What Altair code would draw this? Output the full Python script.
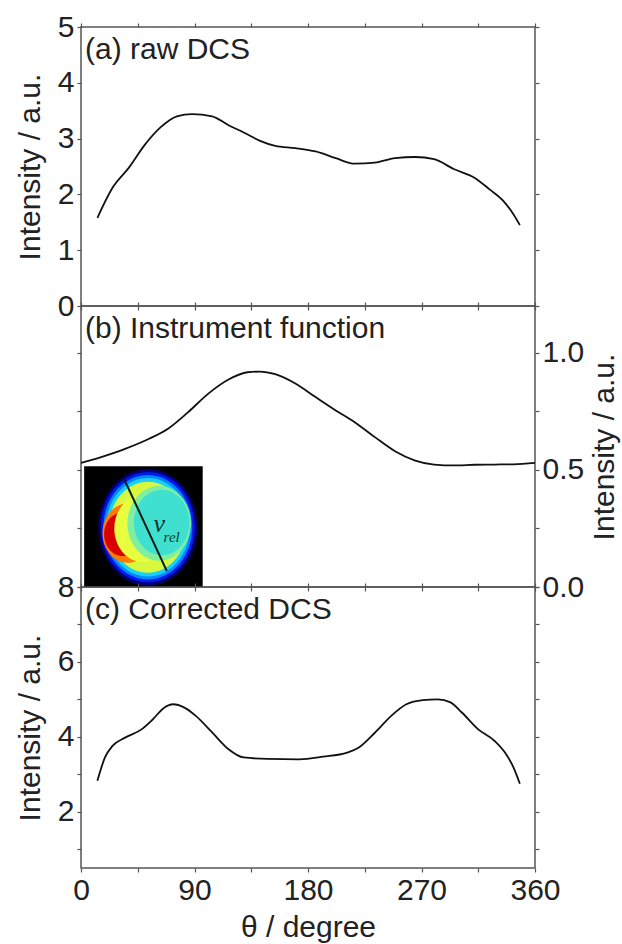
import altair as alt
import pandas as pd

# ---------------- data ----------------
theta_a = [13, 25, 38, 51, 63, 76, 88, 104, 117, 129, 142, 154, 170, 186, 202, 217, 233, 249, 265, 280, 296, 312, 324, 335, 343, 348]
int_a = [1.58, 2.12, 2.48, 2.90, 3.20, 3.40, 3.44, 3.40, 3.24, 3.11, 2.96, 2.87, 2.83, 2.77, 2.65, 2.55, 2.57, 2.65, 2.67, 2.63, 2.45, 2.30, 2.09, 1.88, 1.64, 1.45]

theta_b = [0, 16, 35, 54, 69, 85, 101, 117, 132, 142, 154, 170, 186, 202, 217, 233, 249, 265, 280, 296, 312, 328, 343, 360]
int_b = [0.53, 0.555, 0.59, 0.633, 0.676, 0.747, 0.826, 0.886, 0.917, 0.92, 0.909, 0.869, 0.811, 0.754, 0.704, 0.64, 0.58, 0.54, 0.523, 0.519, 0.522, 0.523, 0.524, 0.53]

theta_c = [13, 19, 25, 35, 48, 57, 66, 73, 82, 91, 104, 117, 129, 148, 173, 192, 211, 220, 233, 246, 258, 271, 283, 293, 302, 315, 328, 337, 343, 348]
int_c = [2.83, 3.45, 3.76, 3.98, 4.20, 4.47, 4.78, 4.87, 4.78, 4.56, 4.12, 3.67, 3.45, 3.41, 3.40, 3.47, 3.58, 3.71, 4.11, 4.56, 4.87, 4.98, 5.00, 4.92, 4.65, 4.20, 3.89, 3.54, 3.18, 2.75]

panel_labels = ["(a) raw DCS", "(b) Instrument function", "(c) Corrected DCS"]
x_title = "θ / degree"
y_title = "Intensity / a.u."

# inset (detector image sketch) in panel (b) data coordinates
inset_theta = [2.5, 96.5]
inset_int = [0.0, 0.516]
ring_theta = [53, 53, 53, 53, 53, 37, 33, 49, 62, 64]
ring_int = [0.255, 0.255, 0.255, 0.255, 0.255, 0.23, 0.225, 0.25, 0.272, 0.275]
ring_size = [13600, 12200, 10900, 9700, 8300, 3500, 1900, 4500, 5600, 4300]
ring_color = ["#00006e", "#0018f0", "#0088ff", "#18d0f8", "#d8f840", "#ff7a00", "#d80000", "#e8ff40", "#80f0a0", "#40e0d0"]
vrel_theta = [34, 68]
vrel_int = [0.463, 0.069]

FONT = "Liberation Sans"
W, FS = 454, 30
x_vals = [0, 45, 90, 135, 180, 225, 270, 315, 360]
xscale = alt.Scale(domain=[0, 360], nice=False, zero=False)
ELL = "M -0.85 0 A 0.85 1 0 1 1 0.85 0 A 0.85 1 0 1 1 -0.85 0 Z"


def xaxis(orient, labels=False, title=None):
    kw = dict(orient=orient, values=x_vals, labels=labels, domain=False,
              tickSize=4, grid=False, labelFlush=False)
    if labels:
        kw["labelExpr"] = "datum.value % 90 == 0 ? datum.label : ''"
        kw["titlePadding"] = 7
    kw["title"] = title if title else None
    return alt.Axis(**kw)


def panel(theta, inten, ydom, yvals, label_expr, fmt, label, left_labels, right_labels, h, extra=None):
    df = pd.DataFrame({"theta": theta, "intensity": inten})
    ysc = alt.Scale(domain=ydom, nice=False, zero=False)
    left_kw = dict(orient="left", values=yvals, domain=False, tickSize=4, grid=False,
                   labelFlush=False, labels=left_labels, format=fmt, labelExpr=label_expr,
                   titlePadding=12)
    left_kw["title"] = y_title if left_labels else None
    right_kw = dict(orient="right", values=yvals, domain=False, tickSize=4, grid=False,
                    labelFlush=False, labels=right_labels, format=fmt, labelExpr=label_expr,
                    titlePadding=6, titleAngle=270, titleBaseline="top")
    right_kw["title"] = y_title if right_labels else None

    bottom_lab = extra == "bottom"
    line = alt.Chart(df).mark_line(color="#111", strokeWidth=1.8, interpolate="monotone").encode(
        x=alt.X("theta:Q", scale=xscale,
                axis=xaxis("bottom", labels=bottom_lab, title=x_title if bottom_lab else None)),
        y=alt.Y("intensity:Q", scale=ysc, axis=alt.Axis(**left_kw)),
    )
    ghost = alt.Chart(df).mark_line(opacity=0).encode(
        x=alt.X("theta:Q", scale=xscale, axis=xaxis("top")),
        y=alt.Y("intensity:Q", scale=ysc, axis=alt.Axis(**right_kw)),
    )
    txt = alt.Chart(pd.DataFrame({"t": [label]})).mark_text(
        align="left", baseline="top", font=FONT, fontSize=FS, color="#222"
    ).encode(text="t:N", x=alt.value(4), y=alt.value(8))
    layers = [line, ghost, txt]
    if extra == "inset":
        rect = alt.Chart(pd.DataFrame({"x": [inset_theta[0]], "x2": [inset_theta[1]],
                                       "y": [inset_int[0]], "y2": [inset_int[1]]})).mark_rect(color="black").encode(
            x=alt.X("x:Q", scale=xscale, axis=None), x2="x2:Q",
            y=alt.Y("y:Q", scale=ysc, axis=None), y2="y2:Q")
        rings = alt.Chart(pd.DataFrame({"x": ring_theta, "y": ring_int, "s": ring_size,
                                        "c": ring_color, "o": list(range(len(ring_theta)))})).mark_point(
            shape=ELL, filled=True, opacity=1, strokeWidth=0).encode(
            x=alt.X("x:Q", scale=xscale, axis=None), y=alt.Y("y:Q", scale=ysc, axis=None),
            size=alt.Size("s:Q", scale=None, legend=None),
            color=alt.Color("c:N", scale=None, legend=None),
            order=alt.Order("o:Q"))
        vline = alt.Chart(pd.DataFrame({"x": vrel_theta, "y": vrel_int})).mark_line(
            color="#061a10", strokeWidth=2).encode(
            x=alt.X("x:Q", scale=xscale, axis=None), y=alt.Y("y:Q", scale=ysc, axis=None))
        vtxt = alt.Chart(pd.DataFrame({"x": [57.5, 65.5], "y": [0.27, 0.215], "t": ["v", "rel"],
                                       "fs": [26, 15]})).mark_text(
            font="Liberation Serif", fontStyle="italic", color="#0a3a30", align="left").encode(
            x=alt.X("x:Q", scale=xscale, axis=None), y=alt.Y("y:Q", scale=ysc, axis=None), text="t:N",
            size=alt.Size("fs:Q", scale=None, legend=None))
        layers = [line, ghost, rect, rings, vline, vtxt, txt]
    return alt.layer(*layers).resolve_axis(x="independent", y="independent").properties(width=W, height=h)


pa = panel(theta_a, int_a, [0, 5], [0, 0.5, 1, 1.5, 2, 2.5, 3, 3.5, 4, 4.5, 5],
           "datum.value % 1 == 0 ? datum.label : ''", "d", panel_labels[0], True, False, 279)
pb = panel(theta_b, int_b, [0, 1.2], [0, 0.25, 0.5, 0.75, 1.0],
           "datum.value % 0.5 == 0 ? datum.label : ''", ".1f", panel_labels[1], False, True, 281, extra="inset")
pc = panel(theta_c, int_c, [0.5, 8], [1, 2, 3, 4, 5, 6, 7, 8],
           "datum.value % 2 == 0 ? datum.label : ''", "d", panel_labels[2], True, False, 281, extra="bottom")

chart = alt.vconcat(pa, pb, pc, spacing=0, bounds="flush").properties(
    padding={"left": 14, "top": 11, "right": 0, "bottom": 0},
    background="white"
).configure_view(stroke="#555", strokeWidth=1.5).configure_axis(
    labelFont=FONT, titleFont=FONT, labelFontSize=FS, titleFontSize=FS,
    labelColor="#222", titleColor="#222", tickColor="#555", tickWidth=1.2,
    titleFontWeight="normal", labelPadding=3, labelOverlap=False
)

chart.save("out.html", embed_options={"renderer": "svg", "actions": False})
